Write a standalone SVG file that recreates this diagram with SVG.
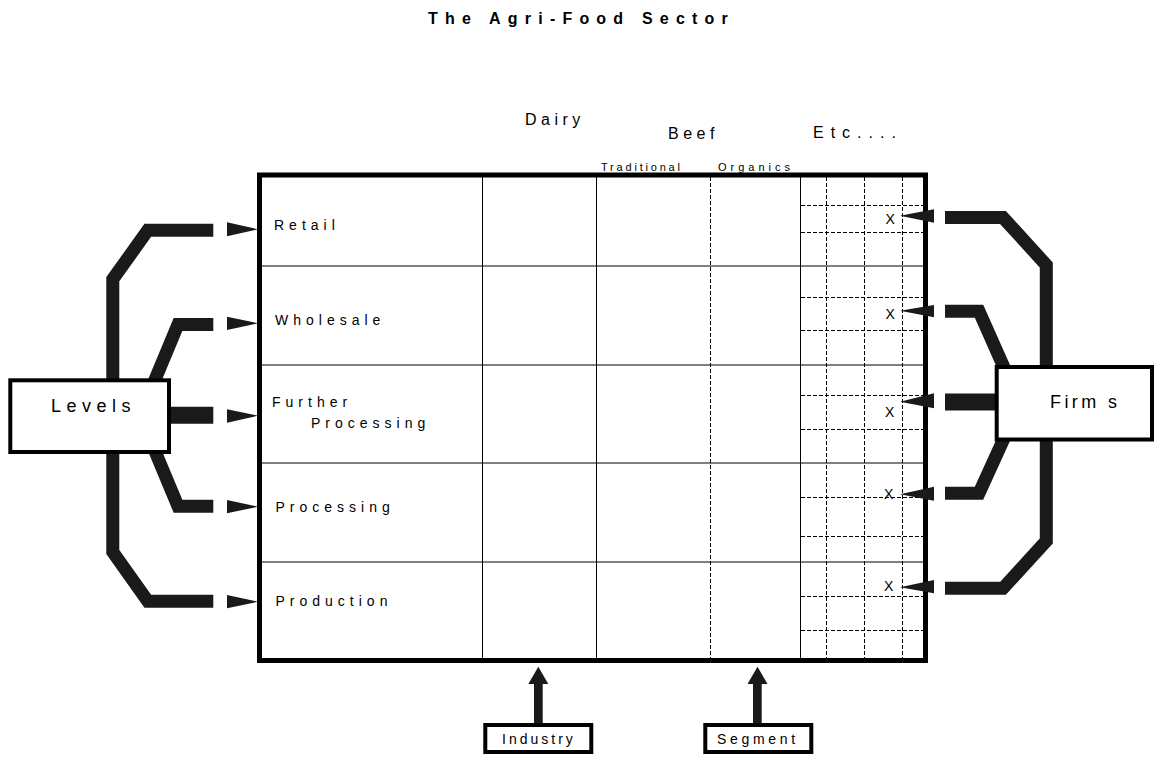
<svg xmlns="http://www.w3.org/2000/svg" width="1154" height="757" viewBox="0 0 1154 757">
  <style>
    text { font-family: "Liberation Sans", Arial, sans-serif; fill: #000; }
    .title { font-size: 16px; font-weight: bold; letter-spacing: 7.2px; }
    .lvl { font-size: 14px; letter-spacing: 5px; }
    .hdr { font-size: 16px; letter-spacing: 4.5px; }
    .sub { font-size: 11px; }
    .big { font-size: 18px; }
    .mark { font-size: 14px; }
    .tag { font-size: 14px; }
    .frame { fill: #fff; stroke: #000; stroke-width: 5; }
    .solid { stroke: #000; stroke-width: 1; fill: none; }
    .dash { stroke: #000; stroke-width: 1; stroke-dasharray: 4 2; fill: none; }
    .bar { fill: none; stroke: #1a1a1a; stroke-width: 13; stroke-linejoin: miter; stroke-miterlimit: 10; }
    .bar.wide { stroke-width: 17; }
    .head { fill: #1a1a1a; stroke: none; }
    .box { fill: #fff; stroke: #000; stroke-width: 4; }
  </style>

  <!-- heading -->
  <text class="title" x="428" y="24">The Agri-Food Sector</text>

  <!-- column headings -->
  <g id="headings">
    <text class="hdr" x="525" y="125">Dairy</text>
    <text class="hdr" x="668" y="139">Beef</text>
    <text class="hdr" x="813" y="138" style="letter-spacing:7px">Etc....</text>
    <text class="sub" x="601" y="171" style="letter-spacing:2.8px">Traditional</text>
    <text class="sub" x="718" y="171" style="letter-spacing:4px">Organics</text>
  </g>

  <!-- sector matrix -->
  <g id="matrix">
    <rect class="frame" x="259.5" y="175" width="666" height="485.5"/>
    <!-- level rows -->
    <line class="solid" x1="262" y1="266" x2="923" y2="266"/>
    <line class="solid" x1="262" y1="365" x2="923" y2="365"/>
    <line class="solid" x1="262" y1="463" x2="923" y2="463"/>
    <line class="solid" x1="262" y1="562" x2="923" y2="562"/>
    <!-- industry / segment columns -->
    <line class="solid" x1="482.5" y1="177" x2="482.5" y2="658"/>
    <line class="solid" x1="596.5" y1="177" x2="596.5" y2="658"/>
    <line class="dash" x1="710.5" y1="177" x2="710.5" y2="658"/>
    <line class="solid" x1="800.5" y1="177" x2="800.5" y2="658"/>
    <!-- firm grid -->
    <line class="dash" x1="826.5" y1="177" x2="826.5" y2="658"/>
    <line class="dash" x1="864.5" y1="177" x2="864.5" y2="658"/>
    <line class="dash" x1="902.5" y1="177" x2="902.5" y2="658"/>
    <g class="dash">
      <line x1="801" y1="205.5" x2="923" y2="205.5"/>
      <line x1="801" y1="232.5" x2="923" y2="232.5"/>
      <line x1="801" y1="297.5" x2="923" y2="297.5"/>
      <line x1="801" y1="330.5" x2="923" y2="330.5"/>
      <line x1="801" y1="395.5" x2="923" y2="395.5"/>
      <line x1="801" y1="429.5" x2="923" y2="429.5"/>
      <line x1="801" y1="497.5" x2="923" y2="497.5"/>
      <line x1="801" y1="536.5" x2="923" y2="536.5"/>
      <line x1="801" y1="596.5" x2="923" y2="596.5"/>
      <line x1="801" y1="630.5" x2="923" y2="630.5"/>
    </g>
    <!-- row labels -->
    <text class="lvl" x="274" y="230">Retail</text>
    <text class="lvl" x="275" y="325">Wholesale</text>
    <text class="lvl" x="272" y="407">Further</text>
    <text class="lvl" x="311" y="428">Processing</text>
    <text class="lvl" x="275.5" y="511.5">Processing</text>
    <text class="lvl" x="275.5" y="606">Production</text>
    <!-- firm marks -->
    <text class="mark" x="885.5" y="224">X</text>
    <text class="mark" x="885.5" y="319">X</text>
    <text class="mark" x="885" y="417">X</text>
    <text class="mark" x="884" y="499">X</text>
    <text class="mark" x="884" y="591">X</text>
  </g>

  <!-- connectors -->
  <g id="connectors">
    <!-- levels bracket -->
    <polyline class="bar" points="213.3,230.3 147.8,230.3 112.8,279.2 112.8,385"/>
    <polyline class="bar" points="213.3,324.5 178,324.5 152.8,385"/>
    <polyline class="bar wide" points="168,415.3 213.3,415.3"/>
    <polyline class="bar" points="213.3,506.3 178,506.3 153.7,448"/>
    <polyline class="bar" points="213.3,601.3 147.8,601.3 112.8,552 112.8,448"/>
    <polygon class="head" points="227,222.3 258,229.3 227,236.3"/>
    <polygon class="head" points="227,316.7 258,323.3 227,330"/>
    <polygon class="head" points="227,409.3 258,415.7 227,422.7"/>
    <polygon class="head" points="227,500 258,506.7 227,513.3"/>
    <polygon class="head" points="227,595 258,601.7 227,608.3"/>

    <!-- firms bracket -->
    <polyline class="bar" points="945,217.5 1003,217.5 1046.3,265 1046.3,372"/>
    <polyline class="bar" points="945,311.2 979,311.2 1006,372"/>
    <polyline class="bar wide" points="945,402 999,402"/>
    <polyline class="bar" points="945,493.3 979,493.3 1006,434"/>
    <polyline class="bar" points="945,588.3 1003,588.3 1046.3,541 1046.3,434"/>
    <polygon class="head" points="900,215.7 934,209.3 934,222.7"/>
    <polygon class="head" points="900,310.7 934,305 934,317.3"/>
    <polygon class="head" points="900,401.7 934,393.3 934,408.3"/>
    <polygon class="head" points="900,494.3 934,486.7 934,500.7"/>
    <polygon class="head" points="900,587.3 934,580 934,593.3"/>

    <!-- industry and segment pointers -->
    <rect class="head" x="534" y="683" width="8.7" height="41"/>
    <polygon class="head" points="538.3,666.7 548.3,684 528.3,684"/>
    <rect class="head" x="753" y="683" width="8.7" height="41"/>
    <polygon class="head" points="757.5,666.7 767.5,684 747.5,684"/>
  </g>

  <!-- label boxes -->
  <g id="levels">
    <rect class="box" x="10.3" y="380.3" width="158.7" height="71.7"/>
    <text class="big" x="51" y="412" style="letter-spacing:5.5px">Levels</text>
  </g>
  <g id="firms">
    <rect class="box" x="996.7" y="367" width="155.3" height="72.5"/>
    <text class="big" x="1050" y="408" style="letter-spacing:3.4px">Firm s</text>
  </g>
  <g id="industry">
    <rect class="box" x="485.3" y="725" width="106" height="27"/>
    <text class="tag" x="502" y="744" style="letter-spacing:3px">Industry</text>
  </g>
  <g id="segment">
    <rect class="box" x="705.3" y="725" width="106" height="27"/>
    <text class="tag" x="717" y="744" style="letter-spacing:3.7px">Segment</text>
  </g>
</svg>
